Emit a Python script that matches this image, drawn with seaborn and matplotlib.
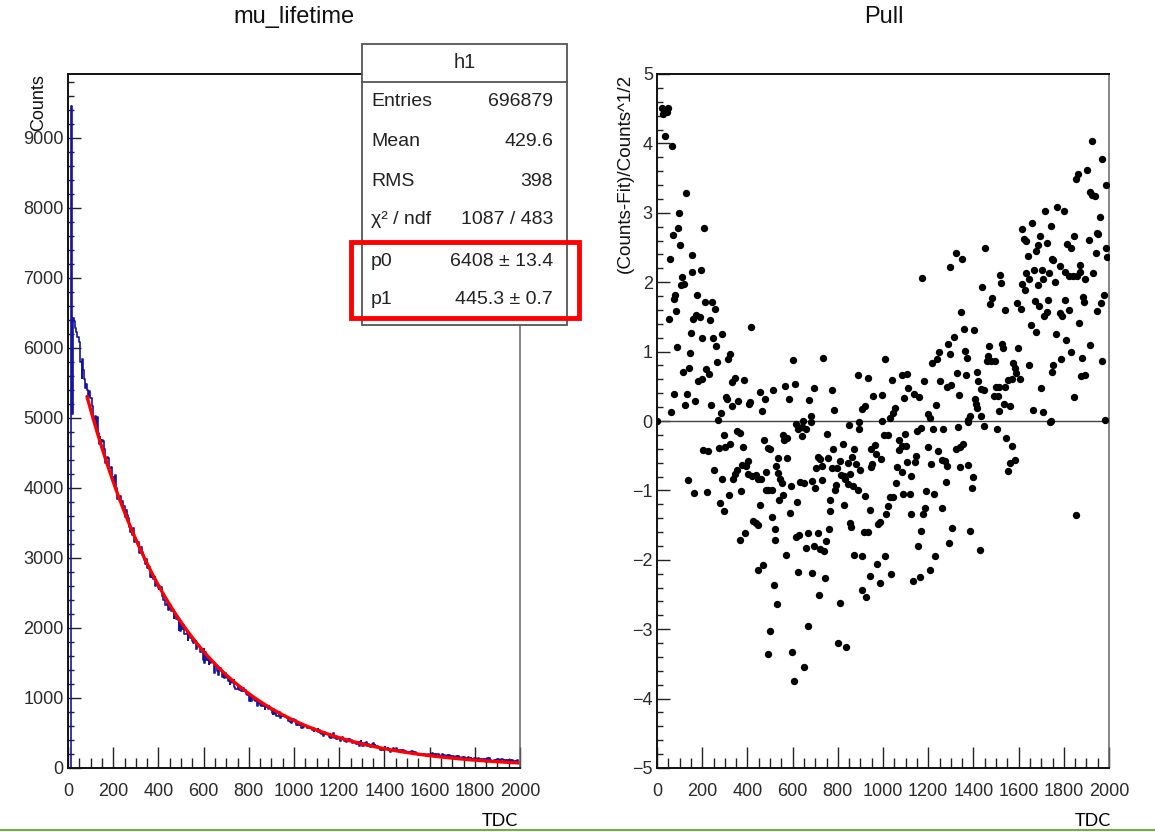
import numpy as np
import pandas as pd
import matplotlib
matplotlib.use("Agg")
import matplotlib.pyplot as plt
import seaborn as sns
from matplotlib.patches import Rectangle
from matplotlib.lines import Line2D
from matplotlib.ticker import MultipleLocator

# ---------------- data ----------------
fit_p0 = 6408.0
fit_p1 = 445.3
fit_range = [84, 2000]

# histogram bins before the pull region (bin centres, counts)
hist_early_tdc = [2, 6, 10, 14, 18]
hist_early_counts = [0, 0, 0, 9450, 5050]

# pull points (TDC, (Counts-Fit)/sqrt(Counts))
pull_upper_left = [
    (24, 4.51), (34, 4.48), (44, 4.45), (27, 4.43), (49, 4.51), (37, 4.11), (65, 3.96),
    (130, 3.28), (97, 3.00), (94, 2.78), (69, 2.68), (102, 2.53), (58, 2.33), (156, 2.39),
    (209, 2.78), (153, 2.14), (193, 2.17), (109, 2.08), (106, 1.96), (120, 1.97), (80, 1.81),
    (74, 1.76), (177, 1.81), (212, 1.71), (243, 1.71), (258, 1.61), (86, 1.58), (53, 1.47),
    (161, 1.47), (174, 1.53), (189, 1.50), (233, 1.46), (150, 1.27), (201, 1.20), (248, 1.20),
    (289, 1.26), (417, 1.35), (90, 1.06), (263, 1.08), (146, 0.98), (324, 0.97), (313, 0.89),
    (266, 0.85), (141, 0.77), (116, 0.70), (215, 0.75), (230, 0.68), (198, 0.61), (183, 0.57),
    (330, 0.56), (345, 0.62), (385, 0.59), (602, 0.88), (735, 0.91), (568, 0.50), (609, 0.53),
    (695, 0.48), (513, 0.45), (454, 0.42), (776, 0.45), (889, 0.66), (935, 0.62), (956, 0.36),
    (76, 0.39), (133, 0.39), (168, 0.29), (125, 0.23), (238, 0.23), (310, 0.31), (307, 0.34),
    (333, 0.21), (360, 0.29), (410, 0.28), (405, 0.25), (478, 0.31), (584, 0.32), (673, 0.30),
    (63, 0.13), (282, 0.11), (466, 0.14), (784, 0.16), (909, 0.18), (919, 0.22), (270, 0.01),
    (645, 0.00), (683, 0.07), (683, -0.01), (0, 0.00),
]
pull_upper_right = [
    (1923, 4.03), (1967, 3.78), (1902, 3.62), (1864, 3.56), (1855, 3.48), (1988, 3.40),
    (1914, 3.30), (1926, 3.25), (1936, 3.24), (1719, 3.02), (1772, 3.08), (1799, 3.03),
    (1958, 2.94), (1660, 2.85), (1613, 2.76), (1743, 2.81), (1622, 2.62), (1633, 2.60),
    (1695, 2.67), (1725, 2.57), (1687, 2.54), (1678, 2.45), (1642, 2.38), (1846, 2.66),
    (1813, 2.55), (1831, 2.49), (1911, 2.61), (1946, 2.71), (1952, 2.69), (1987, 2.49),
    (1990, 2.37), (1943, 2.42), (1451, 2.49), (1321, 2.42), (1350, 2.33), (1297, 2.22),
    (1173, 2.06), (1518, 2.11), (1524, 1.99), (1439, 1.93), (1631, 2.13), (1645, 2.05),
    (1616, 1.98), (1628, 1.89), (1666, 2.18), (1704, 2.17), (1734, 2.13), (1707, 2.04),
    (1684, 1.96), (1760, 2.01), (1748, 2.34), (1754, 2.32), (1781, 2.23), (1805, 2.14),
    (1822, 2.09), (1840, 2.09), (1858, 2.09), (1872, 2.15), (1870, 2.25), (1896, 2.04),
    (1928, 2.13), (1483, 1.77), (1474, 1.68), (1539, 1.60), (1595, 1.70), (1610, 1.62),
    (1672, 1.73), (1692, 1.65), (1731, 1.74), (1725, 1.57), (1713, 1.51), (1781, 1.55),
    (1793, 1.51), (1807, 1.75), (1825, 1.60), (1887, 1.79), (1889, 1.72), (1867, 1.41),
    (1949, 1.59), (1964, 1.70), (1976, 1.82), (1347, 1.57), (1359, 1.33), (1403, 1.31),
    (1654, 1.38), (1678, 1.28), (1766, 1.26), (1811, 1.17), (1831, 1.00), (1914, 1.09),
    (1881, 0.91), (1970, 0.86), (1312, 1.21), (1288, 1.11), (1297, 0.97), (1247, 0.99),
    (1362, 1.01), (1371, 0.91), (1241, 0.89), (1215, 0.83), (1468, 1.08), (1465, 0.94),
    (1459, 0.86), (1480, 0.86), (1495, 0.87), (1527, 1.11), (1530, 1.05), (1598, 1.05),
    (1575, 0.84), (1583, 0.76), (1589, 0.69), (1604, 0.61), (1648, 0.81), (1749, 0.70),
    (1754, 0.81), (1787, 0.89), (1875, 0.65), (1896, 0.67), (1008, 0.90), (1041, 0.59),
    (1085, 0.66), (1105, 0.68), (1111, 0.47), (1135, 0.39), (1159, 0.35), (1182, 0.57),
    (1250, 0.58), (1282, 0.49), (1300, 0.52), (1327, 0.69), (1368, 0.66), (1415, 0.70),
    (1421, 0.57), (1433, 0.46), (1448, 0.44), (1498, 0.49), (1513, 0.49), (1542, 0.49),
    (1554, 0.59), (1569, 0.61), (1489, 0.36), (1507, 0.36), (1336, 0.37), (1406, 0.31),
    (1412, 0.25), (996, 0.37), (1091, 0.33), (1235, 0.23), (1698, 0.48), (1843, 0.35),
    (1415, 0.19), (1513, 0.14), (1536, 0.24), (1560, 0.22), (1663, 0.16), (1710, 0.13),
    (1055, 0.19), (1046, 0.12), (1200, 0.10), (1209, 0.05), (1029, 0.05), (1386, 0.07),
    (1377, 0.02), (1433, 0.07), (1982, 0.02), (1743, 0.00), (996, 0.00),
]
pull_lower_left = [
    (295, -0.20), (354, -0.14), (366, -0.17), (204, -0.42), (224, -0.43), (274, -0.39),
    (301, -0.38), (322, -0.33), (381, -0.37), (254, -0.71), (139, -0.85), (165, -1.04),
    (221, -1.02), (286, -0.83), (277, -1.18), (295, -1.30), (319, -1.07), (336, -0.84),
    (345, -0.76), (354, -0.70), (375, -0.64), (392, -0.65), (404, -0.57), (401, -0.77),
    (419, -0.79), (437, -0.78), (445, -0.83), (460, -0.84), (481, -0.73), (372, -1.01),
    (472, -0.28), (490, -0.39), (499, -0.40), (457, -1.21), (481, -0.99), (493, -0.99),
    (507, -0.99), (425, -1.44), (437, -1.47), (448, -1.50), (389, -1.61), (366, -1.71),
    (507, -1.39), (522, -1.55), (522, -1.72), (445, -2.15), (469, -2.08), (516, -2.36),
    (531, -2.63), (499, -3.02), (493, -3.36), (528, -0.65), (534, -0.75), (543, -0.84),
    (552, -0.89), (540, -1.14), (558, -1.06), (593, -0.94), (537, -0.54), (575, -0.54),
    (558, -0.20), (564, -0.27), (575, -0.25), (587, -1.33), (620, -1.16), (569, -1.93),
    (614, -1.67), (628, -1.64), (667, -1.61), (661, -1.83), (693, -1.80), (711, -1.61),
    (720, -1.85), (738, -1.88), (749, -1.73), (761, -1.55), (764, -1.30), (767, -1.14),
    (625, -2.17), (684, -2.19), (743, -2.26), (717, -2.51), (667, -2.95), (599, -3.33),
    (649, -3.54), (605, -3.74), (802, -3.20), (838, -3.26), (811, -2.62), (617, -0.04),
    (626, -0.11), (643, -0.09), (640, -0.22), (658, -0.12), (634, -0.88), (649, -0.90),
    (687, -0.86), (699, -0.96), (705, -0.68), (732, -0.85), (729, -0.65), (714, -0.52),
    (723, -0.55), (755, -0.53), (752, -0.19), (779, -0.41), (773, -0.68), (797, -0.68),
    (808, -0.57), (823, -0.33), (814, -0.78), (826, -0.79), (832, -0.83), (853, -0.77),
    (847, -0.60), (865, -0.52), (873, -0.40), (882, -0.62), (900, -0.70), (794, -0.92),
    (788, -1.00), (829, -1.21), (847, -0.91), (867, -0.94), (888, -1.00), (920, -1.08),
    (853, -1.47), (858, -1.53), (873, -1.93), (906, -1.95), (941, -1.28), (914, -1.60),
    (932, -1.60), (976, -1.48), (985, -1.46), (974, -2.06), (941, -2.23), (909, -2.43),
    (923, -2.54), (988, -2.33), (850, -0.06), (894, -0.02), (894, -0.11), (947, -0.40),
    (965, -0.34), (971, -0.47), (991, -0.55), (953, -0.62), (947, -0.66),
]
pull_lower_right = [
    (1005, -0.20), (1020, -0.20), (1073, -0.27), (1097, -0.19), (1085, -0.36), (1103, -0.36),
    (1070, -0.42), (1150, -0.14), (1170, -0.10), (1220, -0.11), (1265, -0.11), (1333, -0.08),
    (1374, -0.01), (1445, -0.07), (1504, -0.12), (1545, -0.24), (1572, -0.36), (1586, -0.56),
    (1563, -0.61), (1554, -0.72), (1737, -0.01), (1200, -0.38), (1244, -0.43), (1324, -0.40),
    (1341, -0.38), (1356, -0.33), (1144, -0.50), (1141, -0.59), (1106, -0.59), (1061, -0.66),
    (1082, -0.73), (1126, -0.79), (1058, -0.89), (1212, -0.62), (1259, -0.56), (1274, -0.57),
    (1282, -0.65), (1339, -0.67), (1377, -0.64), (1398, -0.80), (1395, -0.96), (1277, -0.88),
    (1029, -1.10), (1043, -1.10), (1020, -1.23), (1014, -1.34), (1088, -1.05), (1120, -1.05),
    (1191, -1.01), (1226, -1.05), (1188, -1.25), (1179, -1.34), (1122, -1.34), (1259, -1.25),
    (1167, -1.59), (1156, -1.80), (1306, -1.54), (1291, -1.76), (1386, -1.59), (1427, -1.86),
    (1011, -1.95), (1035, -2.21), (1132, -2.30), (1164, -2.25), (1206, -2.14), (1232, -1.94),
    (1852, -1.36),
]

stats_title = "h1"
stats_labels = ["Entries", "Mean", "RMS", "χ² / ndf", "p0", "p1"]
stats_values = ["696879", "429.6", "398", "1087 / 483", "6408 ± 13.4", "445.3 ± 0.7"]

# ---------------- derived frames ----------------
pulls = pd.DataFrame(pull_upper_left + pull_upper_right + pull_lower_left + pull_lower_right,
                     columns=["tdc", "pull"])


def fit_func(x):
    return fit_p0 * np.exp(-np.asarray(x, dtype=float) / fit_p1)


# histogram counts recovered from the pulls: (C - F)/sqrt(C) = pull
hp = pulls[pulls["tdc"] >= 20].sort_values("tdc")
F = fit_func(hp["tdc"].values)
p = hp["pull"].values
sq = (p + np.sqrt(p ** 2 + 4 * F)) / 2.0
hist = pd.DataFrame({
    "tdc": list(hist_early_tdc) + list(hp["tdc"].values),
    "counts": list(hist_early_counts) + list(sq ** 2),
})
fit_x = np.linspace(fit_range[0], fit_range[1], 500)
fit_df = pd.DataFrame({"tdc": fit_x, "fit": fit_func(fit_x)})

# ---------------- style ----------------
sns.set_theme(style="white")
plt.rcParams["font.family"] = ["Liberation Sans", "DejaVu Sans"]

W, H = 1155, 832
fig = plt.figure(figsize=(W / 100, H / 100), dpi=100)
fig.patch.set_facecolor("white")


def fx(x):
    return x / W


def fy(y):
    return 1 - y / H


ax1 = fig.add_axes([fx(68), fy(768), (520 - 68) / W, (768 - 74) / H])
ax2 = fig.add_axes([fx(657), fy(768), (1109 - 657) / W, (768 - 74) / H])

tick_color = "#2a2a2a"

# left: histogram + fit
sns.lineplot(data=hist, x="tdc", y="counts", estimator=None, sort=True,
             drawstyle="steps-mid", color="#1414a0", lw=1.2, ax=ax1)
sns.lineplot(data=fit_df, x="tdc", y="fit", estimator=None, color="#ff0000", lw=2.4, ax=ax1)
ax1.set_xlim(0, 2000)
ax1.set_ylim(0, 9914)
ax1.yaxis.set_major_locator(MultipleLocator(1000))
ax1.yaxis.set_minor_locator(MultipleLocator(200))

# right: pulls
ax2.axhline(0, color="#444444", lw=1.0, zorder=1)
sns.scatterplot(data=pulls, x="tdc", y="pull", color="black", s=28, linewidth=0, ax=ax2, zorder=3)
ax2.set_xlim(0, 2000)
ax2.set_ylim(-5, 5)
ax2.yaxis.set_major_locator(MultipleLocator(1))
ax2.yaxis.set_minor_locator(MultipleLocator(0.2))

for ax in (ax1, ax2):
    ax.set_facecolor("white")
    ax.xaxis.set_major_locator(MultipleLocator(200))
    ax.xaxis.set_minor_locator(MultipleLocator(50))
    ax.tick_params(axis="x", which="major", direction="in", length=15, width=1.0,
                   color="#222222", labelsize=13, labelcolor=tick_color, pad=10.5,
                   bottom=True, top=False)
    ax.tick_params(axis="x", which="minor", direction="in", length=7.5, width=1.0,
                   color="#222222", bottom=True, top=False)
    ax.tick_params(axis="y", which="major", direction="in", length=9, width=1.0,
                   color="#222222", labelsize=13, labelcolor=tick_color, pad=3,
                   left=True, right=False)
    ax.tick_params(axis="y", which="minor", direction="in", length=4.5, width=1.0,
                   color="#222222", left=True, right=False)
    ax.set_xlabel("")
    for side in ("left", "bottom", "top"):
        ax.spines[side].set_visible(True)
        ax.spines[side].set_color("#111111")
        ax.spines[side].set_linewidth(1.4)
    ax.spines["right"].set_visible(True)
    ax.spines["right"].set_color("#666666")
    ax.spines["right"].set_linewidth(1.1)
    ax.grid(False)

ax1.set_ylabel("Counts", loc="top", fontsize=13, color="#111111")
ax1.yaxis.set_label_coords(-0.046, 1.0)
ax2.set_ylabel("(Counts-Fit)/Counts^1/2", loc="top", fontsize=13.6, color="#111111")
ax2.yaxis.set_label_coords(-0.052, 1.0)

# titles
fig.text(fx(294), fy(17), "mu_lifetime", ha="center", va="center", fontsize=17, color="#111111")
fig.text(fx(884), fy(17), "Pull", ha="center", va="center", fontsize=17, color="#111111")

# TDC labels under the frames
for xc in (500, 1093):
    fig.text(fx(xc), fy(821), "TDC", ha="center", va="center", fontsize=13,
             family=["Lato", "DejaVu Sans"], color="black")

# stats box
box = Rectangle((fx(362), fy(325)), (567 - 362) / W, (325 - 44) / H, transform=fig.transFigure,
                facecolor="white", edgecolor="#555555", lw=1.3, zorder=5)
fig.add_artist(box)
fig.add_artist(Line2D([fx(362), fx(567)], [fy(82), fy(82)], transform=fig.transFigure,
                      color="#555555", lw=1.3, zorder=6))
fig.text(fx(465), fy(63), stats_title, ha="center", va="center", fontsize=14.5,
         color="#222222", zorder=7)
row_y = [101, 142, 182, 220, 261, 300]
for lab, val, yy in zip(stats_labels, stats_values, row_y):
    fig.text(fx(371), fy(yy), lab, ha="left", va="center", fontsize=14, color="#222222", zorder=7)
    fig.text(fx(553), fy(yy), val, ha="right", va="center", fontsize=14, color="#222222", zorder=7)

# red highlight around the fit parameters
hl = Rectangle((fx(351), fy(318)), (579 - 351) / W, (318 - 242) / H, transform=fig.transFigure,
               facecolor="none", edgecolor="#ff0000", lw=3.5, zorder=8)
fig.add_artist(hl)

# green rule at the bottom
fig.add_artist(Line2D([0, 1], [fy(830), fy(830)], transform=fig.transFigure,
                      color="#70ad47", lw=1.5, zorder=9))

fig.savefig("out.png", dpi=100)
